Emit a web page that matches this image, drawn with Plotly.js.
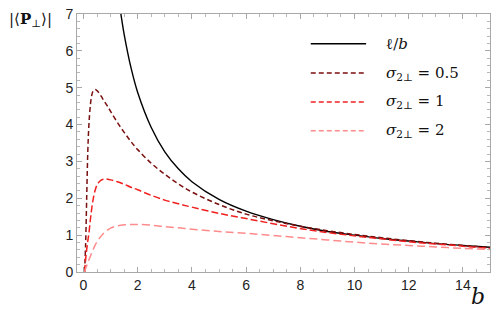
<!DOCTYPE html>
<html><head><meta charset="utf-8">
<script src="https://cdn.plot.ly/plotly-3.0.1.min.js"></script>
<style>html,body{margin:0;padding:0;background:#fff}</style>
</head><body>
<div id="chart" style="width:498px;height:317px"></div>
<script>
// ℓ/b reference curve
const bBlack = [1.3, 1.4, 1.5, 1.75, 2, 2.5, 3, 3.5, 4, 5, 6, 7, 8, 9, 10, 11, 12, 13, 14, 15];
const vBlack = [7.45, 6.9, 6.45, 5.55, 4.87, 3.92, 3.26, 2.8, 2.45, 1.97, 1.65, 1.42, 1.24, 1.1, 1.0, 0.91, 0.84, 0.77, 0.72, 0.67];

// common b grid for the σ curves
const bGrid = [0.04, 0.08, 0.12, 0.16, 0.2, 0.25, 0.3, 0.35, 0.43, 0.5, 0.6, 0.7, 0.85, 1, 1.25, 1.5, 1.75, 2, 2.5, 3, 3.5, 4, 5, 6, 7, 8, 9, 10, 11, 12, 13, 14, 15];
const vSig05 = [0, 0.8, 2.1, 3.3, 4.0, 4.5, 4.78, 4.9, 4.95, 4.92, 4.83, 4.71, 4.54, 4.36, 4.06, 3.79, 3.54, 3.32, 2.95, 2.65, 2.39, 2.17, 1.83, 1.57, 1.39, 1.24, 1.12, 1.02, 0.93, 0.85, 0.78, 0.72, 0.66];
const vSig1  = [0, 0.35, 0.62, 0.85, 1.05, 1.4, 1.7, 1.95, 2.22, 2.36, 2.46, 2.51, 2.52, 2.5, 2.45, 2.38, 2.3, 2.23, 2.08, 1.95, 1.85, 1.76, 1.59, 1.45, 1.31, 1.18, 1.07, 0.98, 0.9, 0.82, 0.76, 0.7, 0.64];
const vSig2  = [0, 0.1, 0.18, 0.25, 0.33, 0.42, 0.52, 0.6, 0.73, 0.82, 0.93, 1.02, 1.12, 1.19, 1.25, 1.28, 1.29, 1.29, 1.27, 1.23, 1.2, 1.16, 1.1, 1.05, 0.99, 0.93, 0.87, 0.81, 0.76, 0.72, 0.68, 0.64, 0.61];

const names = ["ℓ/<i>b</i>", "<i>σ</i><sub>2⊥</sub> = 0.5", "<i>σ</i><sub>2⊥</sub> = 1", "<i>σ</i><sub>2⊥</sub> = 2"];
const colors = ["#000000", "#7a0f0f", "#f02020", "#ff8c8c"];
const dashes = ["solid", "5px,3px", "7px,3px", "8px,4px"];
const legDashes = ["solid", "5px,3px", "5px,3px", "5px,3px"];

const traces = [
  {x: bBlack, y: vBlack, name: names[0], mode: "lines", line: {color: colors[0], width: 1.4, dash: dashes[0], shape: "spline"}},
  {x: bGrid, y: vSig05, name: names[1], mode: "lines", line: {color: colors[1], width: 1.5, dash: dashes[1], shape: "spline"}},
  {x: bGrid, y: vSig1, name: names[2], mode: "lines", line: {color: colors[2], width: 1.5, dash: dashes[2], shape: "spline"}},
  {x: bGrid, y: vSig2, name: names[3], mode: "lines", line: {color: colors[3], width: 1.5, dash: dashes[3], shape: "spline"}}
];

const legRows = [0.885, 0.771, 0.659, 0.547];
const shapes = [];
const annotations = [];
for (let i = 0; i < 4; i++) {
  shapes.push({type: "line", xref: "paper", yref: "paper", x0: 0.566, x1: 0.700, y0: legRows[i], y1: legRows[i],
    line: {color: colors[i], width: 1.5, dash: legDashes[i]}});
  annotations.push({xref: "paper", yref: "paper", x: 0.743, y: legRows[i], xanchor: "left", yanchor: "middle",
    text: names[i], showarrow: false, font: {family: "DejaVu Serif", size: 15, color: "#111"}});
}
annotations.push({xref: "paper", yref: "paper", x: -0.17, y: 0.98, xanchor: "left", yanchor: "middle",
  text: "|⟨<b>P</b><sub>⊥</sub>⟩|", showarrow: false, font: {family: "DejaVu Serif", size: 15, color: "#111"}});
annotations.push({xref: "paper", yref: "paper", x: 0.972, y: -0.095, xanchor: "center", yanchor: "middle",
  text: "<i>b</i>", showarrow: false, font: {family: "DejaVu Serif", size: 22, color: "#111"}});

const axisCommon = {
  showgrid: false, zeroline: false, showline: true, linecolor: "#a8a8a8", linewidth: 1,
  mirror: "ticks", ticks: "inside", ticklen: 5, tickcolor: "#a8a8a8", tickwidth: 1,
  tickfont: {family: "Liberation Sans", size: 14, color: "#222"}
};

const layout = {
  width: 498, height: 317,
  margin: {l: 77, r: 8, t: 14, b: 45},
  paper_bgcolor: "#fff", plot_bgcolor: "#fff",
  showlegend: false,
  xaxis: Object.assign({}, axisCommon, {range: [-0.24, 15], tickvals: [0, 2, 4, 6, 8, 10, 12, 14],
    minor: {dtick: 0.5, ticks: "inside", ticklen: 3, tickcolor: "#b8b8b8"}}),
  yaxis: Object.assign({}, axisCommon, {range: [0, 7], dtick: 1,
    minor: {dtick: 0.2, ticks: "inside", ticklen: 3, tickcolor: "#b8b8b8"}}),
  shapes: shapes,
  annotations: annotations
};

Plotly.newPlot("chart", traces, layout, {displayModeBar: false, staticPlot: true});
</script>
</body></html>
